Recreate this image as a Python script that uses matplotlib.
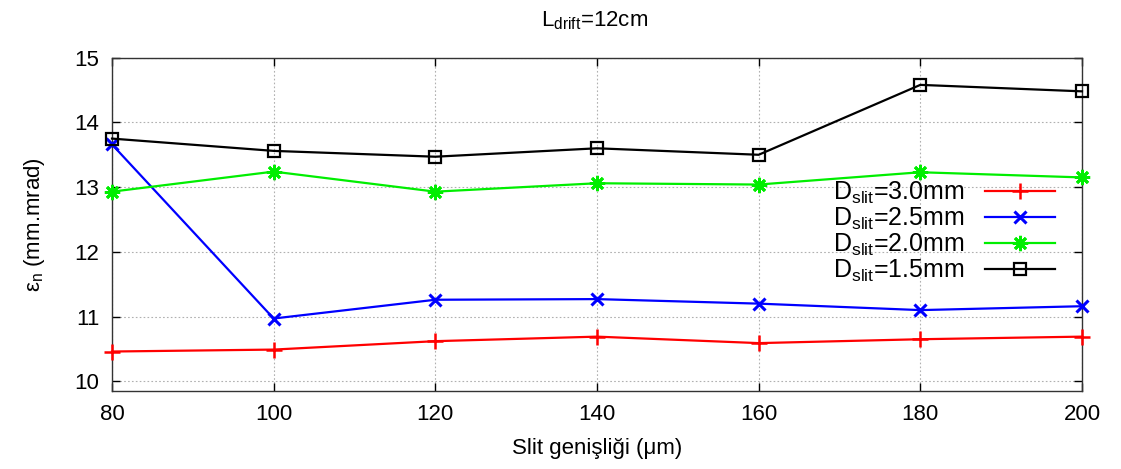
import matplotlib
matplotlib.use('Agg')
import matplotlib.pyplot as plt

plt.rcParams['font.family'] = ['Liberation Sans', 'DejaVu Sans']
plt.rcParams['mathtext.fontset'] = 'custom'
plt.rcParams['mathtext.rm'] = 'Liberation Sans'
plt.rcParams['mathtext.it'] = 'Liberation Sans'
plt.rcParams['mathtext.default'] = 'regular'

# slit width (um)
slit_width = [80, 100, 120, 140, 160, 180, 200]

# normalised emittance for each slit diameter
eps_d30 = [10.46, 10.49, 10.62, 10.69, 10.59, 10.65, 10.69]
eps_d25 = [13.66, 10.97, 11.26, 11.27, 11.20, 11.10, 11.16]
eps_d20 = [12.93, 13.24, 12.93, 13.06, 13.04, 13.23, 13.15]
eps_d15 = [13.75, 13.56, 13.47, 13.60, 13.50, 14.58, 14.48]

labels = ['D$_{slit}$=3.0mm', 'D$_{slit}$=2.5mm', 'D$_{slit}$=2.0mm', 'D$_{slit}$=1.5mm']

fig = plt.figure(figsize=(11.21, 4.69), dpi=100)
ax = fig.add_axes([0.0999, 0.1663, 0.8653, 0.7107])

ax.plot(slit_width, eps_d30, color='#ff0000', lw=1.6, marker='+', ms=11, mew=1.8,
        label=labels[0], clip_on=False, zorder=3)
ax.plot(slit_width, eps_d25, color='#0000ff', lw=1.6, marker='x', ms=9, mew=2.2,
        label=labels[1], clip_on=False, zorder=3)
ax.plot(slit_width, eps_d20, color='#00ee00', lw=1.6, marker=(8, 2, 0), ms=11, mew=2.0,
        label=labels[2], clip_on=False, zorder=3)
ax.plot(slit_width, eps_d15, color='black', lw=1.6, marker='s', ms=8, mew=1.6,
        markerfacecolor='none', label=labels[3], clip_on=False, zorder=3)

ax.set_xlim(80, 200)
ax.set_ylim(9.85, 15)
ax.set_xticks(range(80, 201, 20))
ax.set_yticks(range(10, 16))
ax.grid(True, ls=(0, (1.5, 2)), color='#b0b0b0', lw=0.8)
ax.tick_params(direction='in', length=6, width=1, top=True, right=True, labelsize=16, pad=9)
for s in ax.spines.values():
    s.set_linewidth(1.0)
    s.set_color('#333333')

ax.set_xlabel('Slit genişliği (μm)', fontsize=16, labelpad=10)
ax.set_ylabel('ε$_n$ (mm.mrad)', fontsize=16, labelpad=20)
fig.text(0.53, 0.955, 'L$_{drift}$=12cm', ha='center', va='center', fontsize=16)

ax.legend(loc='upper right', bbox_to_anchor=(0.982, 0.665), frameon=False, markerfirst=False,
          fontsize=18, handlelength=2.8, labelspacing=0.0, handletextpad=0.8, borderaxespad=0)

fig.savefig('out.png', dpi=100)
